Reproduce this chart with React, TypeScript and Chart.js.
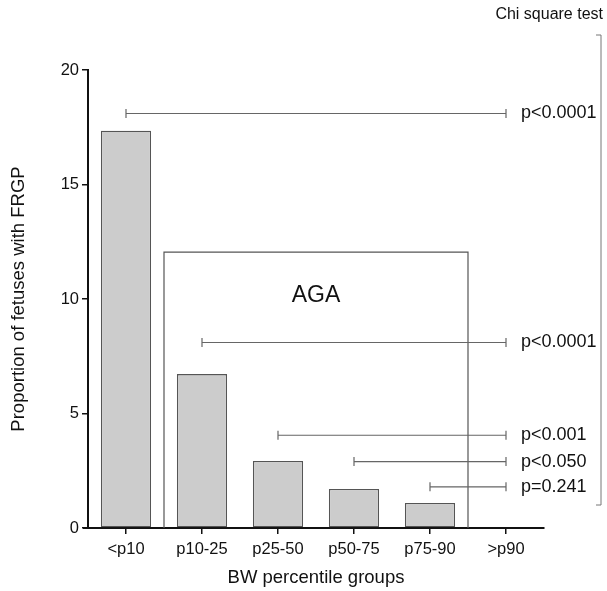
import React, { useEffect, useRef } from "react";
import { Chart, registerables } from "chart.js";

Chart.register(...registerables);

// ---- Data ----
const categories = ["<p10", "p10-25", "p25-50", "p50-75", "p75-90", ">p90"];
const proportions = [17.35, 6.72, 2.93, 1.7, 1.09, 0];
const yTicks = [0, 5, 10, 15, 20];

// Chi-square comparisons: each group vs >p90
const comparisonFrom = [0, 1, 2, 3, 4];
const comparisonTo = 5;
const comparisonLevel = [18.1, 8.1, 4.05, 2.9, 1.8];
const comparisonLabels = ["p<0.0001", "p<0.0001", "p<0.001", "p<0.050", "p=0.241"];

// AGA box spans categories p10-25 .. p75-90
const agaFrom = 1;
const agaTo = 4;
const agaTop = 12.05;
const agaLabel = "AGA";
const agaLabelLevel = 10.15;

const testLabel = "Chi square test";
const xTitle = "BW percentile groups";
const yTitle = "Proportion of fetuses with FRGP";

const FONT = "'Liberation Sans', Arial, Helvetica, sans-serif";

const annotations = {
  id: "annotations",
  beforeDatasetsDraw(chart: any) {
    const { ctx, scales } = chart;
    const x = scales.x;
    const y = scales.y;
    const half = (x.getPixelForValue(1) - x.getPixelForValue(0)) / 2;
    const bx0 = x.getPixelForValue(agaFrom) - half;
    const bx1 = x.getPixelForValue(agaTo) + half;
    const by = y.getPixelForValue(agaTop);
    const y0 = y.getPixelForValue(0);
    ctx.save();
    ctx.strokeStyle = "#555";
    ctx.lineWidth = 1.2;
    ctx.beginPath();
    ctx.moveTo(bx0, y0);
    ctx.lineTo(bx0, by);
    ctx.lineTo(bx1, by);
    ctx.lineTo(bx1, y0);
    ctx.stroke();
    ctx.fillStyle = "#111";
    ctx.font = `23px ${FONT}`;
    ctx.textAlign = "center";
    ctx.textBaseline = "middle";
    ctx.fillText(agaLabel, (bx0 + bx1) / 2, y.getPixelForValue(agaLabelLevel));
    ctx.restore();
  },
  afterDatasetsDraw(chart: any) {
    const { ctx, scales } = chart;
    const x = scales.x;
    const y = scales.y;
    ctx.save();
    ctx.strokeStyle = "#666";
    ctx.lineWidth = 1.2;
    const xe = x.getPixelForValue(comparisonTo);
    comparisonFrom.forEach((f, i) => {
      const xs = x.getPixelForValue(f);
      const yy = y.getPixelForValue(comparisonLevel[i]);
      ctx.beginPath();
      ctx.moveTo(xs, yy);
      ctx.lineTo(xe, yy);
      ctx.moveTo(xs, yy - 4.5);
      ctx.lineTo(xs, yy + 4.5);
      ctx.moveTo(xe, yy - 4.5);
      ctx.lineTo(xe, yy + 4.5);
      ctx.stroke();
      ctx.fillStyle = "#111";
      ctx.font = `18px ${FONT}`;
      ctx.textAlign = "left";
      ctx.textBaseline = "middle";
      ctx.fillText(comparisonLabels[i], xe + 15, yy);
    });
    // bracket on right
    const bxr = chart.width - 6;
    ctx.strokeStyle = "#777";
    ctx.lineWidth = 1;
    ctx.beginPath();
    ctx.moveTo(bxr - 5, 35);
    ctx.lineTo(bxr, 35);
    ctx.lineTo(bxr, 505);
    ctx.lineTo(bxr - 5, 505);
    ctx.stroke();
    ctx.fillStyle = "#111";
    ctx.font = `16px ${FONT}`;
    ctx.textAlign = "right";
    ctx.textBaseline = "middle";
    ctx.fillText(testLabel, chart.width - 4, 15);
    // small extension of the x axis to the left of the y axis
    const y0 = y.getPixelForValue(0);
    ctx.strokeStyle = "#111";
    ctx.lineWidth = 2;
    ctx.beginPath();
    ctx.moveTo(x.left - 5, y0);
    ctx.lineTo(x.left, y0);
    ctx.stroke();
    ctx.restore();
  },
};

export default function App() {
  const ref = useRef<HTMLCanvasElement>(null);
  useEffect(() => {
    if (!ref.current) return;
    const chart = new Chart(ref.current, {
      type: "bar",
      data: {
        labels: categories,
        datasets: [
          {
            data: proportions,
            backgroundColor: "#cccccc",
            borderColor: "#555",
            borderWidth: 1.3,
            borderSkipped: false,
            barPercentage: 0.66,
            categoryPercentage: 1,
          },
        ],
      },
      options: {
        animation: false,
        responsive: false,
        layout: { padding: { left: 0, top: 70, right: 63, bottom: 0 } },
        plugins: { legend: { display: false }, tooltip: { enabled: false } },
        scales: {
          x: {
            type: "category",
            offset: true,
            grid: {
              offset: false,
              drawOnChartArea: false,
              drawTicks: true,
              tickLength: 6,
              color: "#111",
              lineWidth: 1.5,
            },
            border: { display: true, color: "#111", width: 2 },
            ticks: { color: "#111", font: { family: FONT, size: 16.5 }, padding: 6, maxRotation: 0 },
            title: {
              display: true,
              text: xTitle,
              color: "#111",
              font: { family: FONT, size: 18.5 },
              padding: { top: 0, bottom: 2 },
            },
            afterFit: (s: any) => {
              s.height = 63;
            },
          },
          y: {
            min: 0,
            max: 20,
            afterBuildTicks: (s: any) => {
              s.ticks = yTicks.map((v) => ({ value: v }));
            },
            grid: {
              drawOnChartArea: false,
              drawTicks: true,
              tickLength: 6,
              color: "#111",
              lineWidth: 1.5,
            },
            border: { display: true, color: "#111", width: 2 },
            ticks: { color: "#111", font: { family: FONT, size: 16.5 }, padding: 3 },
            title: {
              display: true,
              text: yTitle,
              color: "#111",
              font: { family: FONT, size: 18.5 },
              padding: { top: 8, bottom: 0 },
            },
            afterFit: (s: any) => {
              s.width = 88;
            },
          },
        },
      },
      plugins: [annotations],
    });
    return () => chart.destroy();
  }, []);
  return (
    <div style={{ position: "absolute", left: 0, top: 0, width: 607, height: 591, background: "#fff" }}>
      <canvas ref={ref} width={607} height={591} />
    </div>
  );
}
